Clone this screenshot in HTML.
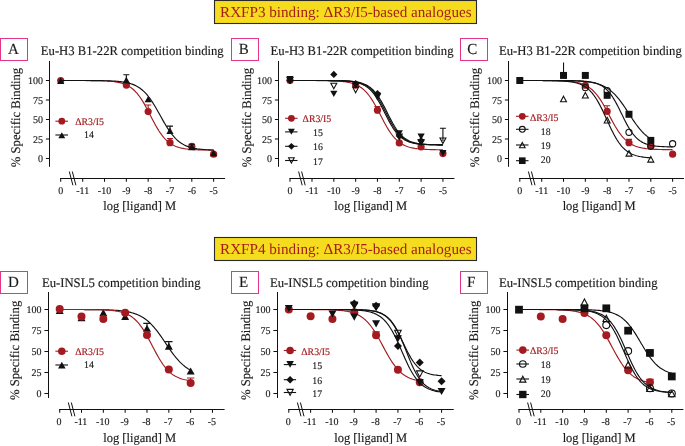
<!DOCTYPE html><html><head><meta charset="utf-8"><style>html,body{margin:0;padding:0;background:#fff}svg{display:block;will-change:transform}text{stroke-width:0.15px;paint-order:stroke}</style></head><body>
<svg width="685" height="446" viewBox="0 0 685 446" font-family="'Liberation Serif', serif" text-rendering="geometricPrecision">
<rect width="685" height="446" fill="#fff"/>
<rect x="214.5" y="0.5" width="262" height="23" fill="#f6dc1e" stroke="#2a2a2a" stroke-width="1.1"/>
<text x="220.05" y="16.7" font-size="15.15" fill="#a61e1a" style="stroke:none">RXFP3 binding: ΔR3/I5-based analogues</text>
<rect x="214.5" y="237.5" width="262" height="23" fill="#f6dc1e" stroke="#2a2a2a" stroke-width="1.1"/>
<text x="220.05" y="253.8" font-size="15.15" fill="#a61e1a" style="stroke:none">RXFP4 binding: ΔR3/I5-based analogues</text>
<rect x="0.5" y="38.5" width="27" height="22" fill="none" stroke="#e3358c" stroke-width="1"/>
<text transform="translate(13.3 53.8) scale(1 1.03)" font-size="15" text-anchor="middle" fill="#1a1a1a" stroke="#1a1a1a">A</text>
<text transform="translate(40.8 54.6) scale(1 1.03)" font-size="12.7" fill="#1a1a1a" stroke="#1a1a1a">Eu-H3 B1-22R competition binding</text>
<g stroke="#111" stroke-width="1.05" fill="none">
<path d="M49.5 61V166.8"/>
<path d="M45.9 158.5H49.5"/>
<path d="M45.9 139H49.5"/>
<path d="M45.9 119.5H49.5"/>
<path d="M45.9 100H49.5"/>
<path d="M45.9 80.5H49.5"/>
<path d="M60.1 178.5H225.1"/>
<path d="M60.7 178.5V181.8"/>
<path d="M82.7 178.5V181.8"/>
<path d="M104.52 178.5V181.8"/>
<path d="M126.34 178.5V181.8"/>
<path d="M148.16 178.5V181.8"/>
<path d="M169.98 178.5V181.8"/>
<path d="M191.8 178.5V181.8"/>
<path d="M213.62 178.5V181.8"/>
</g>
<g stroke="#111" stroke-width="1.0"><path d="M69.3 171.5L72.9 185.3"/><path d="M72.3 171.5L75.9 185.3"/></g>
<g font-size="10" fill="#1a1a1a">
<text transform="translate(43.1 162) scale(1 1.03)" text-anchor="end" fill="#1a1a1a" stroke="#1a1a1a">0</text>
<text transform="translate(43.1 142.5) scale(1 1.03)" text-anchor="end" fill="#1a1a1a" stroke="#1a1a1a">25</text>
<text transform="translate(43.1 123) scale(1 1.03)" text-anchor="end" fill="#1a1a1a" stroke="#1a1a1a">50</text>
<text transform="translate(43.1 103.5) scale(1 1.03)" text-anchor="end" fill="#1a1a1a" stroke="#1a1a1a">75</text>
<text transform="translate(43.1 84) scale(1 1.03)" text-anchor="end" fill="#1a1a1a" stroke="#1a1a1a">100</text>
<text transform="translate(60.7 193.6) scale(1 1.03)" text-anchor="middle" fill="#1a1a1a" stroke="#1a1a1a">0</text>
<text transform="translate(82.7 193.6) scale(1 1.03)" text-anchor="middle" fill="#1a1a1a" stroke="#1a1a1a">-11</text>
<text transform="translate(104.52 193.6) scale(1 1.03)" text-anchor="middle" fill="#1a1a1a" stroke="#1a1a1a">-10</text>
<text transform="translate(126.34 193.6) scale(1 1.03)" text-anchor="middle" fill="#1a1a1a" stroke="#1a1a1a">-9</text>
<text transform="translate(148.16 193.6) scale(1 1.03)" text-anchor="middle" fill="#1a1a1a" stroke="#1a1a1a">-8</text>
<text transform="translate(169.98 193.6) scale(1 1.03)" text-anchor="middle" fill="#1a1a1a" stroke="#1a1a1a">-7</text>
<text transform="translate(191.8 193.6) scale(1 1.03)" text-anchor="middle" fill="#1a1a1a" stroke="#1a1a1a">-6</text>
<text transform="translate(213.62 193.6) scale(1 1.03)" text-anchor="middle" fill="#1a1a1a" stroke="#1a1a1a">-5</text>
</g>
<text transform="translate(103.2 210) scale(1 1.03)" font-size="12.5" fill="#1a1a1a" stroke="#1a1a1a">log [ligand] M</text>
<text transform="translate(19.5 117.5) rotate(-90) scale(1 1.03)" font-size="12.7" text-anchor="middle" fill="#1a1a1a" stroke="#1a1a1a">% Specific Binding</text>
<path d="M60.7 80.5 L61.97 80.5 L63.25 80.5 L64.52 80.5 L65.8 80.51 L67.07 80.51 L68.35 80.51 L69.62 80.51 L70.89 80.51 L72.17 80.51 L73.44 80.51 L74.72 80.51 L75.99 80.52 L77.27 80.52 L78.54 80.52 L79.81 80.53 L81.09 80.53 L82.36 80.53 L83.64 80.54 L84.91 80.55 L86.19 80.55 L87.46 80.56 L88.74 80.57 L90.01 80.58 L91.28 80.59 L92.56 80.61 L93.83 80.63 L95.11 80.64 L96.38 80.67 L97.66 80.69 L98.93 80.72 L100.2 80.75 L101.48 80.79 L102.75 80.84 L104.03 80.89 L105.3 80.95 L106.58 81.02 L107.85 81.1 L109.12 81.19 L110.4 81.29 L111.67 81.41 L112.95 81.55 L114.22 81.7 L115.5 81.88 L116.77 82.09 L118.05 82.33 L119.32 82.6 L120.59 82.91 L121.87 83.27 L123.14 83.67 L124.42 84.13 L125.69 84.66 L126.97 85.25 L128.24 85.92 L129.51 86.68 L130.79 87.53 L132.06 88.48 L133.34 89.55 L134.61 90.73 L135.89 92.04 L137.16 93.47 L138.43 95.05 L139.71 96.75 L140.98 98.6 L142.26 100.57 L143.53 102.67 L144.81 104.88 L146.08 107.18 L147.35 109.56 L148.63 112 L149.9 114.47 L151.18 116.95 L152.45 119.42 L153.73 121.84 L155 124.2 L156.28 126.48 L157.55 128.65 L158.82 130.71 L160.1 132.64 L161.37 134.45 L162.65 136.11 L163.92 137.64 L165.2 139.04 L166.47 140.31 L167.74 141.45 L169.02 142.48 L170.29 143.4 L171.57 144.22 L172.84 144.95 L174.12 145.6 L175.39 146.17 L176.66 146.67 L177.94 147.11 L179.21 147.5 L180.49 147.84 L181.76 148.14 L183.04 148.4 L184.31 148.63 L185.58 148.83 L186.86 149 L188.13 149.15 L189.41 149.28 L190.68 149.4 L191.96 149.5 L193.23 149.58 L194.5 149.66 L195.78 149.72 L197.05 149.78 L198.33 149.83 L199.6 149.87 L200.88 149.91 L202.15 149.94 L203.43 149.97 L204.7 150 L205.97 150.02 L207.25 150.03 L208.52 150.05 L209.8 150.06 L211.07 150.08 L212.35 150.09 L213.62 150.1" fill="none" stroke="#a31b21" stroke-width="1.15"/>
<path d="M148.16 111.54V104.99 M145.16 104.99H151.16" stroke="#a31b21" stroke-width="1.1" fill="none"/>
<path d="M169.98 142.67V138.45 M166.98 138.45H172.98" stroke="#a31b21" stroke-width="1.1" fill="none"/>
<circle cx="60.7" cy="80.5" r="3.6" fill="#a31b21"/>
<circle cx="126.34" cy="85.1" r="3.6" fill="#a31b21"/>
<circle cx="148.16" cy="111.54" r="3.6" fill="#a31b21"/>
<circle cx="169.98" cy="142.67" r="3.6" fill="#a31b21"/>
<circle cx="191.8" cy="146.25" r="3.6" fill="#a31b21"/>
<circle cx="213.62" cy="154.13" r="3.6" fill="#a31b21"/>
<path d="M60.7 80.5 L61.97 80.5 L63.25 80.5 L64.52 80.5 L65.8 80.5 L67.07 80.5 L68.35 80.51 L69.62 80.51 L70.89 80.51 L72.17 80.51 L73.44 80.51 L74.72 80.51 L75.99 80.51 L77.27 80.51 L78.54 80.52 L79.81 80.52 L81.09 80.52 L82.36 80.52 L83.64 80.53 L84.91 80.53 L86.19 80.53 L87.46 80.54 L88.74 80.54 L90.01 80.55 L91.28 80.56 L92.56 80.56 L93.83 80.57 L95.11 80.58 L96.38 80.6 L97.66 80.61 L98.93 80.62 L100.2 80.64 L101.48 80.66 L102.75 80.68 L104.03 80.71 L105.3 80.74 L106.58 80.77 L107.85 80.81 L109.12 80.85 L110.4 80.9 L111.67 80.96 L112.95 81.02 L114.22 81.1 L115.5 81.18 L116.77 81.28 L118.05 81.38 L119.32 81.51 L120.59 81.65 L121.87 81.81 L123.14 81.99 L124.42 82.19 L125.69 82.42 L126.97 82.68 L128.24 82.98 L129.51 83.32 L130.79 83.69 L132.06 84.12 L133.34 84.6 L134.61 85.14 L135.89 85.74 L137.16 86.42 L138.43 87.18 L139.71 88.01 L140.98 88.94 L142.26 89.97 L143.53 91.1 L144.81 92.34 L146.08 93.7 L147.35 95.17 L148.63 96.75 L149.9 98.45 L151.18 100.26 L152.45 102.18 L153.73 104.2 L155 106.31 L156.28 108.48 L157.55 110.72 L158.82 113 L160.1 115.29 L161.37 117.59 L162.65 119.87 L163.92 122.11 L165.2 124.29 L166.47 126.4 L167.74 128.43 L169.02 130.36 L170.29 132.18 L171.57 133.9 L172.84 135.49 L174.12 136.97 L175.39 138.34 L176.66 139.59 L177.94 140.73 L179.21 141.77 L180.49 142.71 L181.76 143.56 L183.04 144.32 L184.31 145 L185.58 145.61 L186.86 146.16 L188.13 146.64 L189.41 147.08 L190.68 147.46 L191.96 147.8 L193.23 148.1 L194.5 148.36 L195.78 148.6 L197.05 148.81 L198.33 148.99 L199.6 149.15 L200.88 149.29 L202.15 149.41 L203.43 149.52 L204.7 149.62 L205.97 149.7 L207.25 149.78 L208.52 149.84 L209.8 149.9 L211.07 149.95 L212.35 150 L213.62 150.03" fill="none" stroke="#111" stroke-width="1.15"/>
<path d="M126.34 79.88V74.73 M123.34 74.73H129.34" stroke="#111" stroke-width="1.1" fill="none"/>
<path d="M169.98 130.58V126.13 M166.98 126.13H172.98" stroke="#111" stroke-width="1.1" fill="none"/>
<path d="M191.8 146.88V144.23 M188.8 144.23H194.8" stroke="#111" stroke-width="1.1" fill="none"/>
<path d="M191.8 146.88V149.53 M188.8 149.53H194.8" stroke="#111" stroke-width="1.1" fill="none"/>
<polygon points="60.7,77.49 64.3,83.9 57.1,83.9" fill="#111"/>
<polygon points="126.34,76.86 129.94,83.27 122.74,83.27" fill="#111"/>
<polygon points="148.16,95.9 151.76,102.3 144.56,102.3" fill="#111"/>
<polygon points="169.98,127.56 173.58,133.97 166.38,133.97" fill="#111"/>
<polygon points="191.8,143.87 195.4,150.27 188.2,150.27" fill="#111"/>
<polygon points="213.62,149.87 217.22,156.28 210.02,156.28" fill="#111"/>
<path d="M55.4 121.2H68" stroke="#a31b21" stroke-width="1.1"/>
<circle cx="61.8" cy="121.2" r="3.42" fill="#a31b21"/>
<text transform="translate(75.2 124.6) scale(1 1.03)" font-size="9.8" fill="#a31b21" stroke="#a31b21">ΔR3/I5</text>
<path d="M55.4 135H68" stroke="#111" stroke-width="1.1"/>
<polygon points="61.8,132.14 65.22,138.23 58.38,138.23" fill="#111"/>
<text transform="translate(84 138.2) scale(1 1.03)" font-size="9.8" fill="#1a1a1a" stroke="#1a1a1a">14</text>
<rect x="231.5" y="38.5" width="27" height="22" fill="none" stroke="#e3358c" stroke-width="1"/>
<text transform="translate(243.8 53.65) scale(1 1.03)" font-size="15" text-anchor="middle" fill="#1a1a1a" stroke="#1a1a1a">B</text>
<text transform="translate(270.6 54.6) scale(1 1.03)" font-size="12.7" fill="#1a1a1a" stroke="#1a1a1a">Eu-H3 B1-22R competition binding</text>
<g stroke="#111" stroke-width="1.05" fill="none">
<path d="M278.5 61V166.8"/>
<path d="M274.9 158.5H278.5"/>
<path d="M274.9 139H278.5"/>
<path d="M274.9 119.5H278.5"/>
<path d="M274.9 100H278.5"/>
<path d="M274.9 80.5H278.5"/>
<path d="M289.4 178.5H454.4"/>
<path d="M290 178.5V181.8"/>
<path d="M312 178.5V181.8"/>
<path d="M333.82 178.5V181.8"/>
<path d="M355.64 178.5V181.8"/>
<path d="M377.46 178.5V181.8"/>
<path d="M399.28 178.5V181.8"/>
<path d="M421.1 178.5V181.8"/>
<path d="M442.92 178.5V181.8"/>
</g>
<g stroke="#111" stroke-width="1.0"><path d="M298.6 171.5L302.2 185.3"/><path d="M301.6 171.5L305.2 185.3"/></g>
<g font-size="10" fill="#1a1a1a">
<text transform="translate(272.1 162) scale(1 1.03)" text-anchor="end" fill="#1a1a1a" stroke="#1a1a1a">0</text>
<text transform="translate(272.1 142.5) scale(1 1.03)" text-anchor="end" fill="#1a1a1a" stroke="#1a1a1a">25</text>
<text transform="translate(272.1 123) scale(1 1.03)" text-anchor="end" fill="#1a1a1a" stroke="#1a1a1a">50</text>
<text transform="translate(272.1 103.5) scale(1 1.03)" text-anchor="end" fill="#1a1a1a" stroke="#1a1a1a">75</text>
<text transform="translate(272.1 84) scale(1 1.03)" text-anchor="end" fill="#1a1a1a" stroke="#1a1a1a">100</text>
<text transform="translate(290 193.6) scale(1 1.03)" text-anchor="middle" fill="#1a1a1a" stroke="#1a1a1a">0</text>
<text transform="translate(312 193.6) scale(1 1.03)" text-anchor="middle" fill="#1a1a1a" stroke="#1a1a1a">-11</text>
<text transform="translate(333.82 193.6) scale(1 1.03)" text-anchor="middle" fill="#1a1a1a" stroke="#1a1a1a">-10</text>
<text transform="translate(355.64 193.6) scale(1 1.03)" text-anchor="middle" fill="#1a1a1a" stroke="#1a1a1a">-9</text>
<text transform="translate(377.46 193.6) scale(1 1.03)" text-anchor="middle" fill="#1a1a1a" stroke="#1a1a1a">-8</text>
<text transform="translate(399.28 193.6) scale(1 1.03)" text-anchor="middle" fill="#1a1a1a" stroke="#1a1a1a">-7</text>
<text transform="translate(421.1 193.6) scale(1 1.03)" text-anchor="middle" fill="#1a1a1a" stroke="#1a1a1a">-6</text>
<text transform="translate(442.92 193.6) scale(1 1.03)" text-anchor="middle" fill="#1a1a1a" stroke="#1a1a1a">-5</text>
</g>
<text transform="translate(334.2 210) scale(1 1.03)" font-size="12.5" fill="#1a1a1a" stroke="#1a1a1a">log [ligand] M</text>
<text transform="translate(250.5 117.5) rotate(-90) scale(1 1.03)" font-size="12.7" text-anchor="middle" fill="#1a1a1a" stroke="#1a1a1a">% Specific Binding</text>
<path d="M290 80.5 L291.27 80.5 L292.55 80.5 L293.82 80.5 L295.1 80.5 L296.37 80.51 L297.65 80.51 L298.92 80.51 L300.19 80.51 L301.47 80.51 L302.74 80.51 L304.02 80.51 L305.29 80.52 L306.57 80.52 L307.84 80.52 L309.12 80.52 L310.39 80.53 L311.66 80.53 L312.94 80.54 L314.21 80.54 L315.49 80.55 L316.76 80.56 L318.04 80.56 L319.31 80.57 L320.58 80.58 L321.86 80.6 L323.13 80.61 L324.41 80.63 L325.68 80.65 L326.96 80.67 L328.23 80.7 L329.5 80.73 L330.78 80.76 L332.05 80.81 L333.33 80.85 L334.6 80.91 L335.88 80.97 L337.15 81.04 L338.42 81.12 L339.7 81.21 L340.97 81.32 L342.25 81.45 L343.52 81.59 L344.8 81.75 L346.07 81.94 L347.35 82.16 L348.62 82.4 L349.89 82.69 L351.17 83.01 L352.44 83.38 L353.72 83.8 L354.99 84.27 L356.27 84.82 L357.54 85.43 L358.81 86.12 L360.09 86.91 L361.36 87.78 L362.64 88.77 L363.91 89.86 L365.19 91.08 L366.46 92.42 L367.73 93.89 L369.01 95.5 L370.28 97.25 L371.56 99.12 L372.83 101.13 L374.11 103.25 L375.38 105.48 L376.65 107.8 L377.93 110.19 L379.2 112.63 L380.48 115.1 L381.75 117.57 L383.03 120.01 L384.3 122.4 L385.58 124.73 L386.85 126.97 L388.12 129.09 L389.4 131.11 L390.67 132.99 L391.95 134.74 L393.22 136.36 L394.5 137.84 L395.77 139.19 L397.04 140.41 L398.32 141.51 L399.59 142.5 L400.87 143.39 L402.14 144.17 L403.42 144.87 L404.69 145.49 L405.96 146.04 L407.24 146.52 L408.51 146.94 L409.79 147.31 L411.06 147.64 L412.34 147.92 L413.61 148.17 L414.88 148.39 L416.16 148.58 L417.43 148.74 L418.71 148.89 L419.98 149.01 L421.26 149.12 L422.53 149.22 L423.81 149.3 L425.08 149.37 L426.35 149.43 L427.63 149.49 L428.9 149.53 L430.18 149.57 L431.45 149.61 L432.73 149.64 L434 149.67 L435.27 149.69 L436.55 149.71 L437.82 149.73 L439.1 149.74 L440.37 149.76 L441.65 149.77 L442.92 149.78" fill="none" stroke="#a31b21" stroke-width="1.15"/>
<path d="M377.46 110.14V106.47 M374.46 106.47H380.46" stroke="#a31b21" stroke-width="1.1" fill="none"/>
<circle cx="290" cy="80.5" r="3.6" fill="#a31b21"/>
<circle cx="355.64" cy="85.18" r="3.6" fill="#a31b21"/>
<circle cx="377.46" cy="110.14" r="3.6" fill="#a31b21"/>
<circle cx="399.28" cy="142.9" r="3.6" fill="#a31b21"/>
<circle cx="421.1" cy="146.8" r="3.6" fill="#a31b21"/>
<circle cx="442.92" cy="153.59" r="3.6" fill="#a31b21"/>
<path d="M290 80.5 L291.27 80.5 L292.55 80.5 L293.82 80.5 L295.1 80.5 L296.37 80.5 L297.65 80.5 L298.92 80.5 L300.19 80.5 L301.47 80.5 L302.74 80.5 L304.02 80.5 L305.29 80.5 L306.57 80.5 L307.84 80.5 L309.12 80.51 L310.39 80.51 L311.66 80.51 L312.94 80.51 L314.21 80.51 L315.49 80.51 L316.76 80.51 L318.04 80.52 L319.31 80.52 L320.58 80.52 L321.86 80.53 L323.13 80.53 L324.41 80.54 L325.68 80.54 L326.96 80.55 L328.23 80.56 L329.5 80.57 L330.78 80.58 L332.05 80.6 L333.33 80.61 L334.6 80.63 L335.88 80.66 L337.15 80.68 L338.42 80.71 L339.7 80.75 L340.97 80.79 L342.25 80.84 L343.52 80.9 L344.8 80.97 L346.07 81.04 L347.35 81.14 L348.62 81.24 L349.89 81.37 L351.17 81.51 L352.44 81.68 L353.72 81.88 L354.99 82.11 L356.27 82.38 L357.54 82.69 L358.81 83.04 L360.09 83.46 L361.36 83.94 L362.64 84.49 L363.91 85.12 L365.19 85.84 L366.46 86.66 L367.73 87.59 L369.01 88.65 L370.28 89.84 L371.56 91.16 L372.83 92.64 L374.11 94.26 L375.38 96.04 L376.65 97.97 L377.93 100.05 L379.2 102.25 L380.48 104.58 L381.75 106.99 L383.03 109.47 L384.3 112 L385.58 114.53 L386.85 117.04 L388.12 119.5 L389.4 121.88 L390.67 124.15 L391.95 126.3 L393.22 128.31 L394.5 130.18 L395.77 131.89 L397.04 133.45 L398.32 134.86 L399.59 136.13 L400.87 137.25 L402.14 138.26 L403.42 139.14 L404.69 139.92 L405.96 140.6 L407.24 141.19 L408.51 141.71 L409.79 142.16 L411.06 142.55 L412.34 142.88 L413.61 143.17 L414.88 143.42 L416.16 143.64 L417.43 143.82 L418.71 143.98 L419.98 144.12 L421.26 144.23 L422.53 144.33 L423.81 144.42 L425.08 144.49 L426.35 144.56 L427.63 144.61 L428.9 144.66 L430.18 144.7 L431.45 144.73 L432.73 144.76 L434 144.78 L435.27 144.8 L436.55 144.82 L437.82 144.84 L439.1 144.85 L440.37 144.86 L441.65 144.87 L442.92 144.88" fill="none" stroke="#111" stroke-width="1.15"/>
<polygon points="290,82.34 293.6,75.93 286.4,75.93" fill="#111"/>
<polygon points="333.82,97.08 337.42,90.68 330.22,90.68" fill="#111"/>
<polygon points="355.64,88.58 359.24,82.17 352.04,82.17" fill="#111"/>
<polygon points="377.46,99.11 381.06,92.7 373.86,92.7" fill="#111"/>
<polygon points="399.28,136.55 402.88,130.14 395.68,130.14" fill="#111"/>
<polygon points="421.1,139.91 424.7,133.5 417.5,133.5" fill="#111"/>
<polygon points="442.92,156.44 446.52,150.03 439.32,150.03" fill="#111"/>
<path d="M290 80.5 L291.27 80.5 L292.55 80.5 L293.82 80.5 L295.1 80.5 L296.37 80.5 L297.65 80.5 L298.92 80.5 L300.19 80.5 L301.47 80.5 L302.74 80.5 L304.02 80.5 L305.29 80.5 L306.57 80.5 L307.84 80.5 L309.12 80.5 L310.39 80.51 L311.66 80.51 L312.94 80.51 L314.21 80.51 L315.49 80.51 L316.76 80.51 L318.04 80.51 L319.31 80.52 L320.58 80.52 L321.86 80.52 L323.13 80.53 L324.41 80.53 L325.68 80.54 L326.96 80.54 L328.23 80.55 L329.5 80.56 L330.78 80.57 L332.05 80.58 L333.33 80.6 L334.6 80.61 L335.88 80.63 L337.15 80.65 L338.42 80.68 L339.7 80.71 L340.97 80.75 L342.25 80.79 L343.52 80.84 L344.8 80.9 L346.07 80.96 L347.35 81.04 L348.62 81.13 L349.89 81.24 L351.17 81.37 L352.44 81.51 L353.72 81.68 L354.99 81.88 L356.27 82.1 L357.54 82.37 L358.81 82.68 L360.09 83.03 L361.36 83.45 L362.64 83.92 L363.91 84.47 L365.19 85.1 L366.46 85.82 L367.73 86.64 L369.01 87.57 L370.28 88.62 L371.56 89.8 L372.83 91.13 L374.11 92.6 L375.38 94.22 L376.65 95.99 L377.93 97.92 L379.2 99.99 L380.48 102.19 L381.75 104.51 L383.03 106.92 L384.3 109.41 L385.58 111.93 L386.85 114.46 L388.12 116.97 L389.4 119.43 L390.67 121.81 L391.95 124.09 L393.22 126.24 L394.5 128.26 L395.77 130.13 L397.04 131.85 L398.32 133.41 L399.59 134.82 L400.87 136.09 L402.14 137.23 L403.42 138.23 L404.69 139.12 L405.96 139.9 L407.24 140.58 L408.51 141.18 L409.79 141.69 L411.06 142.15 L412.34 142.54 L413.61 142.87 L414.88 143.16 L416.16 143.41 L417.43 143.63 L418.71 143.82 L419.98 143.98 L421.26 144.11 L422.53 144.23 L423.81 144.33 L425.08 144.42 L426.35 144.49 L427.63 144.55 L428.9 144.61 L430.18 144.65 L431.45 144.69 L432.73 144.73 L434 144.76 L435.27 144.78 L436.55 144.8 L437.82 144.82 L439.1 144.84 L440.37 144.85 L441.65 144.86 L442.92 144.87" fill="none" stroke="#111" stroke-width="1.15"/>
<polygon points="290,76.9 293.6,80.5 290,84.1 286.4,80.5" fill="#111"/>
<polygon points="333.82,70.82 337.42,74.42 333.82,78.02 330.22,74.42" fill="#111"/>
<polygon points="355.64,80.02 359.24,83.62 355.64,87.22 352.04,83.62" fill="#111"/>
<polygon points="377.46,89.93 381.06,93.53 377.46,97.13 373.86,93.53" fill="#111"/>
<polygon points="399.28,132.28 402.88,135.88 399.28,139.48 395.68,135.88" fill="#111"/>
<polygon points="421.1,137.04 424.7,140.64 421.1,144.24 417.5,140.64" fill="#111"/>
<path d="M290 80.5 L291.27 80.5 L292.55 80.5 L293.82 80.5 L295.1 80.5 L296.37 80.5 L297.65 80.5 L298.92 80.5 L300.19 80.5 L301.47 80.5 L302.74 80.5 L304.02 80.5 L305.29 80.5 L306.57 80.5 L307.84 80.5 L309.12 80.5 L310.39 80.5 L311.66 80.51 L312.94 80.51 L314.21 80.51 L315.49 80.51 L316.76 80.51 L318.04 80.51 L319.31 80.51 L320.58 80.52 L321.86 80.52 L323.13 80.52 L324.41 80.53 L325.68 80.53 L326.96 80.54 L328.23 80.54 L329.5 80.55 L330.78 80.56 L332.05 80.57 L333.33 80.58 L334.6 80.6 L335.88 80.61 L337.15 80.63 L338.42 80.65 L339.7 80.68 L340.97 80.71 L342.25 80.75 L343.52 80.79 L344.8 80.84 L346.07 80.9 L347.35 80.96 L348.62 81.04 L349.89 81.13 L351.17 81.24 L352.44 81.36 L353.72 81.51 L354.99 81.67 L356.27 81.87 L357.54 82.1 L358.81 82.36 L360.09 82.67 L361.36 83.02 L362.64 83.43 L363.91 83.91 L365.19 84.45 L366.46 85.08 L367.73 85.79 L369.01 86.61 L370.28 87.54 L371.56 88.59 L372.83 89.77 L374.11 91.09 L375.38 92.55 L376.65 94.17 L377.93 95.94 L379.2 97.86 L380.48 99.93 L381.75 102.13 L383.03 104.45 L384.3 106.86 L385.58 109.34 L386.85 111.86 L388.12 114.39 L389.4 116.9 L390.67 119.37 L391.95 121.75 L393.22 124.03 L394.5 126.19 L395.77 128.21 L397.04 130.08 L398.32 131.8 L399.59 133.37 L400.87 134.79 L402.14 136.06 L403.42 137.2 L404.69 138.2 L405.96 139.09 L407.24 139.88 L408.51 140.56 L409.79 141.16 L411.06 141.68 L412.34 142.13 L413.61 142.53 L414.88 142.86 L416.16 143.16 L417.43 143.41 L418.71 143.62 L419.98 143.81 L421.26 143.97 L422.53 144.11 L423.81 144.23 L425.08 144.33 L426.35 144.41 L427.63 144.49 L428.9 144.55 L430.18 144.61 L431.45 144.65 L432.73 144.69 L434 144.73 L435.27 144.76 L436.55 144.78 L437.82 144.8 L439.1 144.82 L440.37 144.84 L441.65 144.85 L442.92 144.86" fill="none" stroke="#111" stroke-width="1.15"/>
<path d="M442.92 140.95V128.24 M439.92 128.24H445.92" stroke="#111" stroke-width="1.1" fill="none"/>
<polygon points="290,83.12 292.97,77.54 287.03,77.54" fill="none" stroke="#111" stroke-width="1.1"/>
<polygon points="333.82,88.82 336.79,83.24 330.85,83.24" fill="none" stroke="#111" stroke-width="1.1"/>
<polygon points="355.64,92.72 358.61,87.14 352.67,87.14" fill="none" stroke="#111" stroke-width="1.1"/>
<polygon points="377.46,99.5 380.43,93.92 374.49,93.92" fill="none" stroke="#111" stroke-width="1.1"/>
<polygon points="399.28,139.52 402.25,133.94 396.31,133.94" fill="none" stroke="#111" stroke-width="1.1"/>
<polygon points="421.1,145.13 424.07,139.55 418.13,139.55" fill="none" stroke="#111" stroke-width="1.1"/>
<polygon points="442.92,143.57 445.89,137.99 439.95,137.99" fill="none" stroke="#111" stroke-width="1.1"/>
<path d="M285.1 118.3H297.5" stroke="#a31b21" stroke-width="1.1"/>
<circle cx="291.4" cy="118.3" r="3.42" fill="#a31b21"/>
<text transform="translate(302.6 122.1) scale(1 1.03)" font-size="9.8" fill="#a31b21" stroke="#a31b21">ΔR3/I5</text>
<path d="M285.1 131.9H297.5" stroke="#111" stroke-width="1.1"/>
<polygon points="291.4,134.76 294.82,128.67 287.98,128.67" fill="#111"/>
<text transform="translate(313 135.6) scale(1 1.03)" font-size="9.8" fill="#1a1a1a" stroke="#1a1a1a">15</text>
<path d="M285.1 146.3H297.5" stroke="#111" stroke-width="1.1"/>
<polygon points="291.4,142.88 294.82,146.3 291.4,149.72 287.98,146.3" fill="#111"/>
<text transform="translate(313 150.4) scale(1 1.03)" font-size="9.8" fill="#1a1a1a" stroke="#1a1a1a">16</text>
<path d="M285.1 160.5H297.5" stroke="#111" stroke-width="1.1"/>
<polygon points="291.4,162.99 294.22,157.69 288.58,157.69" fill="none" stroke="#111" stroke-width="1.1"/>
<text transform="translate(313 164.5) scale(1 1.03)" font-size="9.8" fill="#1a1a1a" stroke="#1a1a1a">17</text>
<rect x="460.5" y="38.5" width="27" height="22" fill="none" stroke="#e3358c" stroke-width="1"/>
<text transform="translate(472.3 53.7) scale(1 1.03)" font-size="15" text-anchor="middle" fill="#1a1a1a" stroke="#1a1a1a">C</text>
<text transform="translate(498.9 54.6) scale(1 1.03)" font-size="12.7" fill="#1a1a1a" stroke="#1a1a1a">Eu-H3 B1-22R competition binding</text>
<g stroke="#111" stroke-width="1.05" fill="none">
<path d="M508.5 61V166.8"/>
<path d="M504.9 158.5H508.5"/>
<path d="M504.9 139H508.5"/>
<path d="M504.9 119.5H508.5"/>
<path d="M504.9 100H508.5"/>
<path d="M504.9 80.5H508.5"/>
<path d="M519.2 178.5H684"/>
<path d="M519.8 178.5V181.8"/>
<path d="M541.7 178.5V181.8"/>
<path d="M563.52 178.5V181.8"/>
<path d="M585.34 178.5V181.8"/>
<path d="M607.16 178.5V181.8"/>
<path d="M628.98 178.5V181.8"/>
<path d="M650.8 178.5V181.8"/>
<path d="M672.62 178.5V181.8"/>
</g>
<g stroke="#111" stroke-width="1.0"><path d="M528.4 171.5L532 185.3"/><path d="M531.4 171.5L535 185.3"/></g>
<g font-size="10" fill="#1a1a1a">
<text transform="translate(502.1 162) scale(1 1.03)" text-anchor="end" fill="#1a1a1a" stroke="#1a1a1a">0</text>
<text transform="translate(502.1 142.5) scale(1 1.03)" text-anchor="end" fill="#1a1a1a" stroke="#1a1a1a">25</text>
<text transform="translate(502.1 123) scale(1 1.03)" text-anchor="end" fill="#1a1a1a" stroke="#1a1a1a">50</text>
<text transform="translate(502.1 103.5) scale(1 1.03)" text-anchor="end" fill="#1a1a1a" stroke="#1a1a1a">75</text>
<text transform="translate(502.1 84) scale(1 1.03)" text-anchor="end" fill="#1a1a1a" stroke="#1a1a1a">100</text>
<text transform="translate(519.8 193.6) scale(1 1.03)" text-anchor="middle" fill="#1a1a1a" stroke="#1a1a1a">0</text>
<text transform="translate(541.7 193.6) scale(1 1.03)" text-anchor="middle" fill="#1a1a1a" stroke="#1a1a1a">-11</text>
<text transform="translate(563.52 193.6) scale(1 1.03)" text-anchor="middle" fill="#1a1a1a" stroke="#1a1a1a">-10</text>
<text transform="translate(585.34 193.6) scale(1 1.03)" text-anchor="middle" fill="#1a1a1a" stroke="#1a1a1a">-9</text>
<text transform="translate(607.16 193.6) scale(1 1.03)" text-anchor="middle" fill="#1a1a1a" stroke="#1a1a1a">-8</text>
<text transform="translate(628.98 193.6) scale(1 1.03)" text-anchor="middle" fill="#1a1a1a" stroke="#1a1a1a">-7</text>
<text transform="translate(650.8 193.6) scale(1 1.03)" text-anchor="middle" fill="#1a1a1a" stroke="#1a1a1a">-6</text>
<text transform="translate(672.62 193.6) scale(1 1.03)" text-anchor="middle" fill="#1a1a1a" stroke="#1a1a1a">-5</text>
</g>
<text transform="translate(562.65 210) scale(1 1.03)" font-size="12.5" fill="#1a1a1a" stroke="#1a1a1a">log [ligand] M</text>
<text transform="translate(478.6 117.5) rotate(-90) scale(1 1.03)" font-size="12.7" text-anchor="middle" fill="#1a1a1a" stroke="#1a1a1a">% Specific Binding</text>
<path d="M519.8 80.5 L521.07 80.5 L522.35 80.51 L523.62 80.51 L524.89 80.51 L526.17 80.51 L527.44 80.51 L528.71 80.51 L529.99 80.51 L531.26 80.51 L532.53 80.52 L533.81 80.52 L535.08 80.52 L536.36 80.52 L537.63 80.53 L538.9 80.53 L540.18 80.54 L541.45 80.54 L542.72 80.55 L544 80.55 L545.27 80.56 L546.54 80.57 L547.82 80.58 L549.09 80.6 L550.36 80.61 L551.64 80.63 L552.91 80.64 L554.18 80.67 L555.46 80.69 L556.73 80.72 L558 80.75 L559.28 80.79 L560.55 80.83 L561.83 80.88 L563.1 80.94 L564.37 81.01 L565.65 81.08 L566.92 81.17 L568.19 81.27 L569.47 81.38 L570.74 81.51 L572.01 81.66 L573.29 81.83 L574.56 82.03 L575.83 82.25 L577.11 82.5 L578.38 82.79 L579.65 83.13 L580.93 83.5 L582.2 83.93 L583.48 84.42 L584.75 84.96 L586.02 85.59 L587.3 86.28 L588.57 87.07 L589.84 87.95 L591.12 88.93 L592.39 90.02 L593.66 91.23 L594.94 92.56 L596.21 94.01 L597.48 95.6 L598.76 97.31 L600.03 99.16 L601.3 101.12 L602.58 103.2 L603.85 105.38 L605.12 107.65 L606.4 109.99 L607.67 112.38 L608.95 114.79 L610.22 117.21 L611.49 119.61 L612.77 121.96 L614.04 124.25 L615.31 126.46 L616.59 128.57 L617.86 130.57 L619.13 132.45 L620.41 134.2 L621.68 135.82 L622.95 137.31 L624.23 138.68 L625.5 139.92 L626.77 141.04 L628.05 142.05 L629.32 142.96 L630.59 143.77 L631.87 144.49 L633.14 145.13 L634.42 145.7 L635.69 146.2 L636.96 146.65 L638.24 147.04 L639.51 147.38 L640.78 147.68 L642.06 147.95 L643.33 148.18 L644.6 148.38 L645.88 148.56 L647.15 148.71 L648.42 148.85 L649.7 148.97 L650.97 149.07 L652.24 149.16 L653.52 149.24 L654.79 149.31 L656.06 149.37 L657.34 149.42 L658.61 149.46 L659.89 149.5 L661.16 149.54 L662.43 149.57 L663.71 149.59 L664.98 149.61 L666.25 149.63 L667.53 149.65 L668.8 149.67 L670.07 149.68 L671.35 149.69 L672.62 149.7" fill="none" stroke="#a31b21" stroke-width="1.15"/>
<path d="M607.16 111.47V105.69 M604.16 105.69H610.16" stroke="#a31b21" stroke-width="1.1" fill="none"/>
<path d="M628.98 142.74V139.39 M625.98 139.39H631.98" stroke="#a31b21" stroke-width="1.1" fill="none"/>
<circle cx="585.34" cy="85.26" r="3.6" fill="#a31b21"/>
<circle cx="607.16" cy="111.47" r="3.6" fill="#a31b21"/>
<circle cx="628.98" cy="142.74" r="3.6" fill="#a31b21"/>
<circle cx="650.8" cy="146.33" r="3.6" fill="#a31b21"/>
<circle cx="672.62" cy="154.13" r="3.6" fill="#a31b21"/>
<path d="M519.8 80.5 L521.07 80.5 L522.35 80.5 L523.62 80.5 L524.89 80.5 L526.17 80.5 L527.44 80.5 L528.71 80.5 L529.99 80.5 L531.26 80.5 L532.53 80.5 L533.81 80.5 L535.08 80.5 L536.36 80.5 L537.63 80.5 L538.9 80.5 L540.18 80.5 L541.45 80.5 L542.72 80.5 L544 80.5 L545.27 80.51 L546.54 80.51 L547.82 80.51 L549.09 80.51 L550.36 80.51 L551.64 80.51 L552.91 80.51 L554.18 80.52 L555.46 80.52 L556.73 80.52 L558 80.53 L559.28 80.53 L560.55 80.54 L561.83 80.54 L563.1 80.55 L564.37 80.56 L565.65 80.57 L566.92 80.58 L568.19 80.59 L569.47 80.61 L570.74 80.63 L572.01 80.65 L573.29 80.67 L574.56 80.7 L575.83 80.73 L577.11 80.77 L578.38 80.82 L579.65 80.87 L580.93 80.94 L582.2 81.01 L583.48 81.1 L584.75 81.2 L586.02 81.32 L587.3 81.45 L588.57 81.61 L589.84 81.8 L591.12 82.02 L592.39 82.27 L593.66 82.56 L594.94 82.9 L596.21 83.29 L597.48 83.74 L598.76 84.26 L600.03 84.86 L601.3 85.54 L602.58 86.33 L603.85 87.22 L605.12 88.23 L606.4 89.37 L607.67 90.65 L608.95 92.08 L610.22 93.66 L611.49 95.4 L612.77 97.29 L614.04 99.34 L615.31 101.54 L616.59 103.86 L617.86 106.29 L619.13 108.82 L620.41 111.4 L621.68 114.01 L622.95 116.62 L624.23 119.19 L625.5 121.7 L626.77 124.12 L628.05 126.42 L629.32 128.59 L630.59 130.61 L631.87 132.47 L633.14 134.18 L634.42 135.74 L635.69 137.14 L636.96 138.39 L638.24 139.5 L639.51 140.49 L640.78 141.36 L642.06 142.13 L643.33 142.8 L644.6 143.38 L645.88 143.88 L647.15 144.32 L648.42 144.7 L649.7 145.03 L650.97 145.32 L652.24 145.56 L653.52 145.77 L654.79 145.95 L656.06 146.11 L657.34 146.24 L658.61 146.35 L659.89 146.45 L661.16 146.54 L662.43 146.61 L663.71 146.67 L664.98 146.72 L666.25 146.77 L667.53 146.81 L668.8 146.84 L670.07 146.87 L671.35 146.89 L672.62 146.91" fill="none" stroke="#111" stroke-width="1.15"/>
<circle cx="585.34" cy="87.6" r="3.1" fill="none" stroke="#111" stroke-width="1.1"/>
<circle cx="607.16" cy="90.56" r="3.1" fill="none" stroke="#111" stroke-width="1.1"/>
<circle cx="628.98" cy="132.29" r="3.1" fill="none" stroke="#111" stroke-width="1.1"/>
<circle cx="650.8" cy="146.02" r="3.1" fill="none" stroke="#111" stroke-width="1.1"/>
<circle cx="672.62" cy="143.76" r="3.1" fill="none" stroke="#111" stroke-width="1.1"/>
<path d="M519.8 80.5 L520.89 80.5 L521.98 80.51 L523.07 80.51 L524.17 80.51 L525.26 80.51 L526.35 80.51 L527.44 80.51 L528.53 80.51 L529.62 80.51 L530.72 80.51 L531.81 80.52 L532.9 80.52 L533.99 80.52 L535.08 80.52 L536.17 80.53 L537.27 80.53 L538.36 80.53 L539.45 80.54 L540.54 80.54 L541.63 80.55 L542.73 80.56 L543.82 80.56 L544.91 80.57 L546 80.58 L547.09 80.59 L548.18 80.6 L549.27 80.62 L550.37 80.63 L551.46 80.65 L552.55 80.67 L553.64 80.69 L554.73 80.72 L555.82 80.75 L556.92 80.78 L558.01 80.82 L559.1 80.86 L560.19 80.9 L561.28 80.96 L562.38 81.02 L563.47 81.08 L564.56 81.16 L565.65 81.25 L566.74 81.34 L567.83 81.45 L568.92 81.58 L570.02 81.71 L571.11 81.87 L572.2 82.05 L573.29 82.25 L574.38 82.47 L575.48 82.72 L576.57 83 L577.66 83.32 L578.75 83.67 L579.84 84.07 L580.93 84.51 L582.02 85.01 L583.12 85.56 L584.21 86.18 L585.3 86.86 L586.39 87.62 L587.48 88.46 L588.58 89.38 L589.67 90.4 L590.76 91.52 L591.85 92.73 L592.94 94.06 L594.03 95.5 L595.12 97.05 L596.22 98.71 L597.31 100.48 L598.4 102.37 L599.49 104.36 L600.58 106.45 L601.68 108.62 L602.77 110.87 L603.86 113.18 L604.95 115.54 L606.04 117.92 L607.13 120.32 L608.23 122.71 L609.32 125.08 L610.41 127.4 L611.5 129.67 L612.59 131.86 L613.68 133.97 L614.78 135.99 L615.87 137.9 L616.96 139.7 L618.05 141.39 L619.14 142.97 L620.23 144.44 L621.33 145.79 L622.42 147.03 L623.51 148.17 L624.6 149.21 L625.69 150.16 L626.78 151.02 L627.88 151.8 L628.97 152.5 L630.06 153.13 L631.15 153.7 L632.24 154.21 L633.33 154.67 L634.43 155.08 L635.52 155.44 L636.61 155.77 L637.7 156.06 L638.79 156.32 L639.88 156.55 L640.98 156.75 L642.07 156.93 L643.16 157.09 L644.25 157.24 L645.34 157.36 L646.43 157.47 L647.53 157.57 L648.62 157.66 L649.71 157.74 L650.8 157.81" fill="none" stroke="#111" stroke-width="1.15"/>
<polygon points="563.52,96.21 566.49,101.79 560.55,101.79" fill="none" stroke="#111" stroke-width="1.1" stroke-linejoin="miter"/>
<polygon points="585.34,92.39 588.31,97.97 582.37,97.97" fill="none" stroke="#111" stroke-width="1.1" stroke-linejoin="miter"/>
<polygon points="607.16,117.35 610.13,122.93 604.19,122.93" fill="none" stroke="#111" stroke-width="1.1" stroke-linejoin="miter"/>
<polygon points="628.98,150.57 631.95,156.15 626.01,156.15" fill="none" stroke="#111" stroke-width="1.1" stroke-linejoin="miter"/>
<polygon points="650.8,156.5 653.77,162.08 647.83,162.08" fill="none" stroke="#111" stroke-width="1.1" stroke-linejoin="miter"/>
<path d="M519.8 80.5 L520.89 80.5 L521.98 80.5 L523.07 80.5 L524.17 80.5 L525.26 80.5 L526.35 80.5 L527.44 80.5 L528.53 80.51 L529.62 80.51 L530.72 80.51 L531.81 80.51 L532.9 80.51 L533.99 80.51 L535.08 80.51 L536.17 80.51 L537.27 80.51 L538.36 80.51 L539.45 80.51 L540.54 80.52 L541.63 80.52 L542.73 80.52 L543.82 80.52 L544.91 80.52 L546 80.53 L547.09 80.53 L548.18 80.53 L549.27 80.54 L550.37 80.54 L551.46 80.55 L552.55 80.55 L553.64 80.56 L554.73 80.56 L555.82 80.57 L556.92 80.58 L558.01 80.59 L559.1 80.59 L560.19 80.6 L561.28 80.62 L562.38 80.63 L563.47 80.64 L564.56 80.66 L565.65 80.67 L566.74 80.69 L567.83 80.71 L568.92 80.74 L570.02 80.76 L571.11 80.79 L572.2 80.82 L573.29 80.86 L574.38 80.9 L575.48 80.94 L576.57 80.99 L577.66 81.04 L578.75 81.09 L579.84 81.16 L580.93 81.23 L582.02 81.31 L583.12 81.39 L584.21 81.49 L585.3 81.59 L586.39 81.71 L587.48 81.83 L588.58 81.98 L589.67 82.13 L590.76 82.3 L591.85 82.49 L592.94 82.7 L594.03 82.93 L595.12 83.18 L596.22 83.45 L597.31 83.76 L598.4 84.09 L599.49 84.45 L600.58 84.85 L601.68 85.29 L602.77 85.76 L603.86 86.28 L604.95 86.85 L606.04 87.46 L607.13 88.12 L608.23 88.84 L609.32 89.62 L610.41 90.45 L611.5 91.35 L612.59 92.31 L613.68 93.34 L614.78 94.43 L615.87 95.59 L616.96 96.82 L618.05 98.11 L619.14 99.46 L620.23 100.87 L621.33 102.34 L622.42 103.86 L623.51 105.43 L624.6 107.03 L625.69 108.67 L626.78 110.33 L627.88 112.01 L628.97 113.69 L630.06 115.38 L631.15 117.05 L632.24 118.7 L633.33 120.33 L634.43 121.92 L635.52 123.47 L636.61 124.97 L637.7 126.42 L638.79 127.81 L639.88 129.14 L640.98 130.41 L642.07 131.61 L643.16 132.74 L644.25 133.81 L645.34 134.81 L646.43 135.75 L647.53 136.62 L648.62 137.43 L649.71 138.19 L650.8 138.89" fill="none" stroke="#111" stroke-width="1.15"/>
<path d="M563.52 75.43V62.48" stroke="#111" stroke-width="1.1" fill="none"/>
<rect x="516.31" y="77.01" width="6.98" height="6.98" fill="#111"/>
<rect x="560.03" y="71.94" width="6.98" height="6.98" fill="#111"/>
<rect x="581.85" y="71.94" width="6.98" height="6.98" fill="#111"/>
<rect x="603.67" y="91.83" width="6.98" height="6.98" fill="#111"/>
<rect x="625.49" y="110.78" width="6.98" height="6.98" fill="#111"/>
<rect x="647.31" y="136.91" width="6.98" height="6.98" fill="#111"/>
<path d="M516 116.3H528.5" stroke="#a31b21" stroke-width="1.1"/>
<circle cx="522.3" cy="116.3" r="3.42" fill="#a31b21"/>
<text transform="translate(529.9 120.5) scale(1 1.03)" font-size="9.8" fill="#a31b21" stroke="#a31b21">ΔR3/I5</text>
<path d="M516 129.3H528.5" stroke="#111" stroke-width="1.1"/>
<circle cx="522.3" cy="129.3" r="2.92" fill="none" stroke="#111" stroke-width="1.1"/>
<text transform="translate(540.8 134.6) scale(1 1.03)" font-size="9.8" fill="#1a1a1a" stroke="#1a1a1a">18</text>
<path d="M516 145H528.5" stroke="#111" stroke-width="1.1"/>
<polygon points="522.3,142.51 525.12,147.81 519.48,147.81" fill="none" stroke="#111" stroke-width="1.1" stroke-linejoin="miter"/>
<text transform="translate(540.8 149.1) scale(1 1.03)" font-size="9.8" fill="#1a1a1a" stroke="#1a1a1a">19</text>
<path d="M516 160.7H528.5" stroke="#111" stroke-width="1.1"/>
<rect x="518.98" y="157.38" width="6.63" height="6.63" fill="#111"/>
<text transform="translate(540.8 162.9) scale(1 1.03)" font-size="9.8" fill="#1a1a1a" stroke="#1a1a1a">20</text>
<rect x="0.5" y="271.5" width="27" height="22" fill="none" stroke="#e3358c" stroke-width="1"/>
<text transform="translate(13.45 286.5) scale(1 1.03)" font-size="15" text-anchor="middle" fill="#1a1a1a" stroke="#1a1a1a">D</text>
<text transform="translate(41.9 286.9) scale(1 1.03)" font-size="12.7" fill="#1a1a1a" stroke="#1a1a1a">Eu-INSL5 competition binding</text>
<g stroke="#111" stroke-width="1.05" fill="none">
<path d="M48.5 292V398"/>
<path d="M44.4 393.5H48.5"/>
<path d="M44.4 372.5H48.5"/>
<path d="M44.4 351.5H48.5"/>
<path d="M44.4 330.5H48.5"/>
<path d="M44.4 309.5H48.5"/>
<path d="M59.1 409.5H224.6"/>
<path d="M59.7 409.5V412.8"/>
<path d="M81.5 409.5V412.8"/>
<path d="M103.33 409.5V412.8"/>
<path d="M125.16 409.5V412.8"/>
<path d="M146.99 409.5V412.8"/>
<path d="M168.82 409.5V412.8"/>
<path d="M190.65 409.5V412.8"/>
<path d="M212.48 409.5V412.8"/>
</g>
<g stroke="#111" stroke-width="1.0"><path d="M68.3 402.5L71.9 416.3"/><path d="M71.3 402.5L74.9 416.3"/></g>
<g font-size="10" fill="#1a1a1a">
<text transform="translate(41.5 397) scale(1 1.03)" text-anchor="end" fill="#1a1a1a" stroke="#1a1a1a">0</text>
<text transform="translate(41.5 376) scale(1 1.03)" text-anchor="end" fill="#1a1a1a" stroke="#1a1a1a">25</text>
<text transform="translate(41.5 355) scale(1 1.03)" text-anchor="end" fill="#1a1a1a" stroke="#1a1a1a">50</text>
<text transform="translate(41.5 334) scale(1 1.03)" text-anchor="end" fill="#1a1a1a" stroke="#1a1a1a">75</text>
<text transform="translate(41.5 313) scale(1 1.03)" text-anchor="end" fill="#1a1a1a" stroke="#1a1a1a">100</text>
<text transform="translate(59.1 424.8) scale(1 1.03)" text-anchor="middle" fill="#1a1a1a" stroke="#1a1a1a">0</text>
<text transform="translate(80.9 424.8) scale(1 1.03)" text-anchor="middle" fill="#1a1a1a" stroke="#1a1a1a">-11</text>
<text transform="translate(102.73 424.8) scale(1 1.03)" text-anchor="middle" fill="#1a1a1a" stroke="#1a1a1a">-10</text>
<text transform="translate(124.56 424.8) scale(1 1.03)" text-anchor="middle" fill="#1a1a1a" stroke="#1a1a1a">-9</text>
<text transform="translate(146.39 424.8) scale(1 1.03)" text-anchor="middle" fill="#1a1a1a" stroke="#1a1a1a">-8</text>
<text transform="translate(168.22 424.8) scale(1 1.03)" text-anchor="middle" fill="#1a1a1a" stroke="#1a1a1a">-7</text>
<text transform="translate(190.05 424.8) scale(1 1.03)" text-anchor="middle" fill="#1a1a1a" stroke="#1a1a1a">-6</text>
<text transform="translate(211.88 424.8) scale(1 1.03)" text-anchor="middle" fill="#1a1a1a" stroke="#1a1a1a">-5</text>
</g>
<text transform="translate(103.25 442.3) scale(1 1.03)" font-size="12.5" fill="#1a1a1a" stroke="#1a1a1a">log [ligand] M</text>
<text transform="translate(18.7 350.4) rotate(-90) scale(1 1.03)" font-size="12.7" text-anchor="middle" fill="#1a1a1a" stroke="#1a1a1a">% Specific Binding</text>
<path d="M59.7 309.51 L60.79 309.51 L61.88 309.51 L62.97 309.51 L64.06 309.51 L65.16 309.51 L66.25 309.51 L67.34 309.51 L68.43 309.51 L69.52 309.51 L70.61 309.51 L71.7 309.52 L72.8 309.52 L73.89 309.52 L74.98 309.52 L76.07 309.52 L77.16 309.53 L78.25 309.53 L79.34 309.53 L80.43 309.54 L81.53 309.54 L82.62 309.54 L83.71 309.55 L84.8 309.55 L85.89 309.56 L86.98 309.56 L88.07 309.57 L89.16 309.58 L90.25 309.59 L91.35 309.59 L92.44 309.6 L93.53 309.61 L94.62 309.63 L95.71 309.64 L96.8 309.65 L97.89 309.67 L98.98 309.68 L100.08 309.7 L101.17 309.72 L102.26 309.75 L103.35 309.77 L104.44 309.8 L105.53 309.83 L106.62 309.86 L107.72 309.9 L108.81 309.94 L109.9 309.98 L110.99 310.03 L112.08 310.08 L113.17 310.14 L114.26 310.21 L115.35 310.28 L116.44 310.36 L117.54 310.44 L118.63 310.54 L119.72 310.64 L120.81 310.75 L121.9 310.88 L122.99 311.01 L124.08 311.16 L125.17 311.33 L126.27 311.51 L127.36 311.71 L128.45 311.92 L129.54 312.16 L130.63 312.42 L131.72 312.7 L132.81 313 L133.9 313.34 L135 313.71 L136.09 314.1 L137.18 314.54 L138.27 315 L139.36 315.51 L140.45 316.06 L141.54 316.66 L142.63 317.3 L143.73 317.99 L144.82 318.74 L145.91 319.54 L147 320.39 L148.09 321.3 L149.18 322.27 L150.27 323.3 L151.37 324.39 L152.46 325.54 L153.55 326.75 L154.64 328.02 L155.73 329.35 L156.82 330.72 L157.91 332.15 L159 333.63 L160.09 335.14 L161.19 336.69 L162.28 338.27 L163.37 339.87 L164.46 341.49 L165.55 343.11 L166.64 344.73 L167.73 346.35 L168.82 347.95 L169.92 349.53 L171.01 351.08 L172.1 352.59 L173.19 354.06 L174.28 355.49 L175.37 356.87 L176.46 358.19 L177.56 359.46 L178.65 360.67 L179.74 361.82 L180.83 362.91 L181.92 363.94 L183.01 364.91 L184.1 365.82 L185.19 366.67 L186.28 367.47 L187.38 368.21 L188.47 368.91 L189.56 369.55 L190.65 370.14" fill="none" stroke="#111" stroke-width="1.15"/>
<path d="M146.99 327.98V323.36 M143.29 323.36H150.69" stroke="#111" stroke-width="1.1" fill="none"/>
<path d="M168.82 345.87V341.67 M165.12 341.67H172.52" stroke="#111" stroke-width="1.1" fill="none"/>
<polygon points="59.7,306.99 63.7,314.11 55.7,314.11" fill="#111"/>
<polygon points="81.5,314.13 85.5,321.25 77.5,321.25" fill="#111"/>
<polygon points="103.33,309.01 107.33,316.13 99.33,316.13" fill="#111"/>
<polygon points="125.16,312.96 129.16,320.08 121.16,320.08" fill="#111"/>
<polygon points="146.99,324.63 150.99,331.75 142.99,331.75" fill="#111"/>
<polygon points="168.82,342.53 172.82,349.65 164.82,349.65" fill="#111"/>
<polygon points="190.65,367.47 194.65,374.59 186.65,374.59" fill="#111"/>
<path d="M59.7 309.5 L60.79 309.5 L61.88 309.5 L62.97 309.51 L64.06 309.51 L65.16 309.51 L66.25 309.51 L67.34 309.51 L68.43 309.51 L69.52 309.51 L70.61 309.51 L71.7 309.51 L72.8 309.52 L73.89 309.52 L74.98 309.52 L76.07 309.52 L77.16 309.52 L78.25 309.53 L79.34 309.53 L80.43 309.53 L81.53 309.54 L82.62 309.54 L83.71 309.55 L84.8 309.55 L85.89 309.56 L86.98 309.57 L88.07 309.58 L89.16 309.59 L90.25 309.6 L91.35 309.61 L92.44 309.62 L93.53 309.64 L94.62 309.66 L95.71 309.68 L96.8 309.7 L97.89 309.72 L98.98 309.75 L100.08 309.78 L101.17 309.81 L102.26 309.85 L103.35 309.89 L104.44 309.94 L105.53 310 L106.62 310.06 L107.72 310.13 L108.81 310.2 L109.9 310.29 L110.99 310.38 L112.08 310.49 L113.17 310.61 L114.26 310.75 L115.35 310.9 L116.44 311.07 L117.54 311.25 L118.63 311.46 L119.72 311.7 L120.81 311.96 L121.9 312.25 L122.99 312.58 L124.08 312.94 L125.17 313.34 L126.27 313.79 L127.36 314.28 L128.45 314.83 L129.54 315.43 L130.63 316.09 L131.72 316.82 L132.81 317.62 L133.9 318.5 L135 319.46 L136.09 320.5 L137.18 321.63 L138.27 322.85 L139.36 324.16 L140.45 325.57 L141.54 327.07 L142.63 328.66 L143.73 330.34 L144.82 332.11 L145.91 333.96 L147 335.87 L148.09 337.85 L149.18 339.88 L150.27 341.95 L151.37 344.04 L152.46 346.14 L153.55 348.24 L154.64 350.33 L155.73 352.38 L156.82 354.39 L157.91 356.34 L159 358.23 L160.09 360.04 L161.19 361.78 L162.28 363.42 L163.37 364.98 L164.46 366.44 L165.55 367.8 L166.64 369.08 L167.73 370.26 L168.82 371.35 L169.92 372.36 L171.01 373.28 L172.1 374.13 L173.19 374.9 L174.28 375.6 L175.37 376.24 L176.46 376.82 L177.56 377.34 L178.65 377.81 L179.74 378.24 L180.83 378.62 L181.92 378.97 L183.01 379.28 L184.1 379.56 L185.19 379.81 L186.28 380.03 L187.38 380.23 L188.47 380.41 L189.56 380.58 L190.65 380.72" fill="none" stroke="#a31b21" stroke-width="1.15"/>
<path d="M190.65 382.92V377.96 M186.95 377.96H194.35" stroke="#a31b21" stroke-width="1.1" fill="none"/>
<circle cx="59.7" cy="309" r="4" fill="#a31b21"/>
<circle cx="81.5" cy="316.39" r="4" fill="#a31b21"/>
<circle cx="103.33" cy="319.08" r="4" fill="#a31b21"/>
<circle cx="125.16" cy="312.86" r="4" fill="#a31b21"/>
<circle cx="146.99" cy="335.12" r="4" fill="#a31b21"/>
<circle cx="168.82" cy="369.56" r="4" fill="#a31b21"/>
<circle cx="190.65" cy="382.92" r="4" fill="#a31b21"/>
<path d="M55.4 351.2H68" stroke="#a31b21" stroke-width="1.1"/>
<circle cx="61.8" cy="351.2" r="3.8" fill="#a31b21"/>
<text transform="translate(75.2 354.6) scale(1 1.03)" font-size="9.8" fill="#a31b21" stroke="#a31b21">ΔR3/I5</text>
<path d="M55.4 365H68" stroke="#111" stroke-width="1.1"/>
<polygon points="61.8,361.82 65.6,368.58 58,368.58" fill="#111"/>
<text transform="translate(84 368.2) scale(1 1.03)" font-size="9.8" fill="#1a1a1a" stroke="#1a1a1a">14</text>
<rect x="231.5" y="271.5" width="27" height="22" fill="none" stroke="#e3358c" stroke-width="1"/>
<text transform="translate(243.55 286.6) scale(1 1.03)" font-size="15" text-anchor="middle" fill="#1a1a1a" stroke="#1a1a1a">E</text>
<text transform="translate(269.9 286.9) scale(1 1.03)" font-size="12.7" fill="#1a1a1a" stroke="#1a1a1a">Eu-INSL5 competition binding</text>
<g stroke="#111" stroke-width="1.05" fill="none">
<path d="M277.5 292V398"/>
<path d="M273.4 393.5H277.5"/>
<path d="M273.4 372.5H277.5"/>
<path d="M273.4 351.5H277.5"/>
<path d="M273.4 330.5H277.5"/>
<path d="M273.4 309.5H277.5"/>
<path d="M288.2 409.5H453.7"/>
<path d="M288.8 409.5V412.8"/>
<path d="M310.6 409.5V412.8"/>
<path d="M332.43 409.5V412.8"/>
<path d="M354.26 409.5V412.8"/>
<path d="M376.09 409.5V412.8"/>
<path d="M397.92 409.5V412.8"/>
<path d="M419.75 409.5V412.8"/>
<path d="M441.58 409.5V412.8"/>
</g>
<g stroke="#111" stroke-width="1.0"><path d="M297.4 402.5L301 416.3"/><path d="M300.4 402.5L304 416.3"/></g>
<g font-size="10" fill="#1a1a1a">
<text transform="translate(270.5 397) scale(1 1.03)" text-anchor="end" fill="#1a1a1a" stroke="#1a1a1a">0</text>
<text transform="translate(270.5 376) scale(1 1.03)" text-anchor="end" fill="#1a1a1a" stroke="#1a1a1a">25</text>
<text transform="translate(270.5 355) scale(1 1.03)" text-anchor="end" fill="#1a1a1a" stroke="#1a1a1a">50</text>
<text transform="translate(270.5 334) scale(1 1.03)" text-anchor="end" fill="#1a1a1a" stroke="#1a1a1a">75</text>
<text transform="translate(270.5 313) scale(1 1.03)" text-anchor="end" fill="#1a1a1a" stroke="#1a1a1a">100</text>
<text transform="translate(288.2 424.8) scale(1 1.03)" text-anchor="middle" fill="#1a1a1a" stroke="#1a1a1a">0</text>
<text transform="translate(310 424.8) scale(1 1.03)" text-anchor="middle" fill="#1a1a1a" stroke="#1a1a1a">-11</text>
<text transform="translate(331.83 424.8) scale(1 1.03)" text-anchor="middle" fill="#1a1a1a" stroke="#1a1a1a">-10</text>
<text transform="translate(353.66 424.8) scale(1 1.03)" text-anchor="middle" fill="#1a1a1a" stroke="#1a1a1a">-9</text>
<text transform="translate(375.49 424.8) scale(1 1.03)" text-anchor="middle" fill="#1a1a1a" stroke="#1a1a1a">-8</text>
<text transform="translate(397.32 424.8) scale(1 1.03)" text-anchor="middle" fill="#1a1a1a" stroke="#1a1a1a">-7</text>
<text transform="translate(419.15 424.8) scale(1 1.03)" text-anchor="middle" fill="#1a1a1a" stroke="#1a1a1a">-6</text>
<text transform="translate(440.98 424.8) scale(1 1.03)" text-anchor="middle" fill="#1a1a1a" stroke="#1a1a1a">-5</text>
</g>
<text transform="translate(334.25 442.3) scale(1 1.03)" font-size="12.5" fill="#1a1a1a" stroke="#1a1a1a">log [ligand] M</text>
<text transform="translate(250.2 350.4) rotate(-90) scale(1 1.03)" font-size="12.7" text-anchor="middle" fill="#1a1a1a" stroke="#1a1a1a">% Specific Binding</text>
<path d="M288.8 309.5 L289.89 309.51 L290.98 309.51 L292.07 309.51 L293.17 309.51 L294.26 309.51 L295.35 309.51 L296.44 309.51 L297.53 309.51 L298.62 309.51 L299.71 309.51 L300.8 309.52 L301.89 309.52 L302.99 309.52 L304.08 309.52 L305.17 309.53 L306.26 309.53 L307.35 309.53 L308.44 309.54 L309.53 309.54 L310.62 309.55 L311.72 309.55 L312.81 309.56 L313.9 309.56 L314.99 309.57 L316.08 309.58 L317.17 309.59 L318.26 309.6 L319.36 309.61 L320.45 309.62 L321.54 309.64 L322.63 309.65 L323.72 309.67 L324.81 309.69 L325.9 309.71 L326.99 309.74 L328.09 309.77 L329.18 309.8 L330.27 309.83 L331.36 309.87 L332.45 309.92 L333.54 309.97 L334.63 310.02 L335.72 310.08 L336.81 310.15 L337.91 310.23 L339 310.31 L340.09 310.41 L341.18 310.51 L342.27 310.63 L343.36 310.76 L344.45 310.91 L345.55 311.07 L346.64 311.25 L347.73 311.45 L348.82 311.68 L349.91 311.92 L351 312.2 L352.09 312.51 L353.18 312.85 L354.27 313.22 L355.37 313.63 L356.46 314.09 L357.55 314.6 L358.64 315.15 L359.73 315.76 L360.82 316.43 L361.91 317.16 L363 317.97 L364.1 318.84 L365.19 319.78 L366.28 320.81 L367.37 321.92 L368.46 323.11 L369.55 324.39 L370.64 325.76 L371.74 327.22 L372.83 328.76 L373.92 330.38 L375.01 332.08 L376.1 333.86 L377.19 335.71 L378.28 337.61 L379.37 339.56 L380.47 341.55 L381.56 343.57 L382.65 345.61 L383.74 347.64 L384.83 349.67 L385.92 351.67 L387.01 353.64 L388.1 355.57 L389.19 357.43 L390.29 359.24 L391.38 360.97 L392.47 362.62 L393.56 364.2 L394.65 365.69 L395.74 367.09 L396.83 368.4 L397.93 369.63 L399.02 370.77 L400.11 371.83 L401.2 372.8 L402.29 373.7 L403.38 374.53 L404.47 375.29 L405.56 375.98 L406.65 376.62 L407.75 377.19 L408.84 377.72 L409.93 378.19 L411.02 378.62 L412.11 379.01 L413.2 379.36 L414.29 379.68 L415.38 379.97 L416.48 380.23 L417.57 380.46 L418.66 380.67 L419.75 380.86" fill="none" stroke="#a31b21" stroke-width="1.15"/>
<path d="M376.09 335.2V331.84 M372.39 331.84H379.79" stroke="#a31b21" stroke-width="1.1" fill="none"/>
<circle cx="288.8" cy="309.5" r="4" fill="#a31b21"/>
<circle cx="310.6" cy="316.22" r="4" fill="#a31b21"/>
<circle cx="332.43" cy="319.08" r="4" fill="#a31b21"/>
<circle cx="354.26" cy="312.19" r="4" fill="#a31b21"/>
<circle cx="376.09" cy="335.2" r="4" fill="#a31b21"/>
<circle cx="397.92" cy="369.81" r="4" fill="#a31b21"/>
<circle cx="419.75" cy="382.33" r="4" fill="#a31b21"/>
<path d="M288.8 309.5 L290.07 309.5 L291.35 309.5 L292.62 309.5 L293.89 309.5 L295.17 309.5 L296.44 309.5 L297.71 309.5 L298.99 309.5 L300.26 309.5 L301.53 309.5 L302.8 309.5 L304.08 309.5 L305.35 309.5 L306.62 309.5 L307.9 309.5 L309.17 309.5 L310.44 309.5 L311.72 309.5 L312.99 309.5 L314.26 309.51 L315.54 309.51 L316.81 309.51 L318.08 309.51 L319.36 309.51 L320.63 309.51 L321.9 309.51 L323.18 309.51 L324.45 309.52 L325.72 309.52 L327 309.52 L328.27 309.53 L329.54 309.53 L330.81 309.53 L332.09 309.54 L333.36 309.55 L334.63 309.55 L335.91 309.56 L337.18 309.57 L338.45 309.58 L339.73 309.59 L341 309.61 L342.27 309.62 L343.55 309.64 L344.82 309.66 L346.09 309.68 L347.37 309.71 L348.64 309.74 L349.91 309.78 L351.19 309.82 L352.46 309.87 L353.73 309.92 L355 309.99 L356.28 310.06 L357.55 310.14 L358.82 310.24 L360.1 310.35 L361.37 310.47 L362.64 310.62 L363.92 310.78 L365.19 310.97 L366.46 311.19 L367.74 311.44 L369.01 311.72 L370.28 312.04 L371.56 312.41 L372.83 312.83 L374.1 313.31 L375.38 313.85 L376.65 314.46 L377.92 315.15 L379.19 315.93 L380.47 316.81 L381.74 317.8 L383.01 318.91 L384.29 320.14 L385.56 321.5 L386.83 323.01 L388.11 324.67 L389.38 326.48 L390.65 328.45 L391.93 330.57 L393.2 332.85 L394.47 335.27 L395.75 337.83 L397.02 340.5 L398.29 343.27 L399.57 346.12 L400.84 349.02 L402.11 351.93 L403.39 354.85 L404.66 357.73 L405.93 360.54 L407.2 363.28 L408.48 365.9 L409.75 368.41 L411.02 370.77 L412.3 372.98 L413.57 375.04 L414.84 376.95 L416.12 378.7 L417.39 380.29 L418.66 381.74 L419.94 383.05 L421.21 384.23 L422.48 385.28 L423.76 386.22 L425.03 387.06 L426.3 387.81 L427.58 388.47 L428.85 389.05 L430.12 389.56 L431.39 390.01 L432.67 390.41 L433.94 390.76 L435.21 391.07 L436.49 391.33 L437.76 391.57 L439.03 391.77 L440.31 391.95 L441.58 392.11" fill="none" stroke="#111" stroke-width="1.15"/>
<polygon points="288.8,312.01 292.8,304.89 284.8,304.89" fill="#111"/>
<polygon points="332.43,317.63 336.43,310.51 328.43,310.51" fill="#111"/>
<polygon points="354.26,308.65 358.26,301.53 350.26,301.53" fill="#111"/>
<polygon points="354.26,320.66 358.26,313.54 350.26,313.54" fill="#111"/>
<polygon points="376.09,310.66 380.09,303.54 372.09,303.54" fill="#111"/>
<polygon points="376.09,327.38 380.09,320.26 372.09,320.26" fill="#111"/>
<polygon points="397.92,342.25 401.92,335.13 393.92,335.13" fill="#111"/>
<polygon points="419.75,386.18 423.75,379.06 415.75,379.06" fill="#111"/>
<polygon points="441.58,395.08 445.58,387.96 437.58,387.96" fill="#111"/>
<path d="M288.8 309.5 L290.07 309.5 L291.35 309.5 L292.62 309.5 L293.89 309.5 L295.17 309.5 L296.44 309.5 L297.71 309.5 L298.99 309.5 L300.26 309.5 L301.53 309.5 L302.8 309.5 L304.08 309.5 L305.35 309.5 L306.62 309.5 L307.9 309.5 L309.17 309.5 L310.44 309.5 L311.72 309.5 L312.99 309.5 L314.26 309.5 L315.54 309.5 L316.81 309.5 L318.08 309.5 L319.36 309.5 L320.63 309.5 L321.9 309.5 L323.18 309.5 L324.45 309.5 L325.72 309.5 L327 309.51 L328.27 309.51 L329.54 309.51 L330.81 309.51 L332.09 309.51 L333.36 309.51 L334.63 309.51 L335.91 309.52 L337.18 309.52 L338.45 309.52 L339.73 309.53 L341 309.53 L342.27 309.54 L343.55 309.54 L344.82 309.55 L346.09 309.56 L347.37 309.57 L348.64 309.58 L349.91 309.59 L351.19 309.6 L352.46 309.62 L353.73 309.64 L355 309.67 L356.28 309.69 L357.55 309.73 L358.82 309.76 L360.1 309.81 L361.37 309.86 L362.64 309.92 L363.92 309.99 L365.19 310.07 L366.46 310.16 L367.74 310.27 L369.01 310.4 L370.28 310.55 L371.56 310.72 L372.83 310.92 L374.1 311.16 L375.38 311.43 L376.65 311.74 L377.92 312.1 L379.19 312.52 L380.47 313.01 L381.74 313.56 L383.01 314.2 L384.29 314.94 L385.56 315.78 L386.83 316.73 L388.11 317.82 L389.38 319.05 L390.65 320.44 L391.93 321.99 L393.2 323.72 L394.47 325.63 L395.75 327.73 L397.02 330.03 L398.29 332.51 L399.57 335.16 L400.84 337.98 L402.11 340.94 L403.39 344.01 L404.66 347.16 L405.93 350.36 L407.2 353.57 L408.48 356.75 L409.75 359.86 L411.02 362.87 L412.3 365.76 L413.57 368.49 L414.84 371.05 L416.12 373.43 L417.39 375.61 L418.66 377.61 L419.94 379.42 L421.21 381.05 L422.48 382.51 L423.76 383.81 L425.03 384.96 L426.3 385.97 L427.58 386.86 L428.85 387.64 L430.12 388.32 L431.39 388.91 L432.67 389.43 L433.94 389.88 L435.21 390.26 L436.49 390.6 L437.76 390.89 L439.03 391.14 L440.31 391.35 L441.58 391.54" fill="none" stroke="#111" stroke-width="1.15"/>
<polygon points="354.26,299.54 358.26,303.54 354.26,307.54 350.26,303.54" fill="#111"/>
<polygon points="376.09,301.8 380.09,305.8 376.09,309.8 372.09,305.8" fill="#111"/>
<polygon points="397.92,341.96 401.92,345.96 397.92,349.96 393.92,345.96" fill="#111"/>
<polygon points="419.75,358.42 423.75,362.42 419.75,366.42 415.75,362.42" fill="#111"/>
<polygon points="441.58,377.15 445.58,381.15 441.58,385.15 437.58,381.15" fill="#111"/>
<path d="M288.8 309.5 L290.07 309.5 L291.35 309.5 L292.62 309.5 L293.89 309.5 L295.17 309.5 L296.44 309.5 L297.71 309.5 L298.99 309.5 L300.26 309.5 L301.53 309.5 L302.8 309.5 L304.08 309.5 L305.35 309.5 L306.62 309.5 L307.9 309.5 L309.17 309.5 L310.44 309.5 L311.72 309.5 L312.99 309.5 L314.26 309.5 L315.54 309.5 L316.81 309.5 L318.08 309.5 L319.36 309.5 L320.63 309.5 L321.9 309.5 L323.18 309.5 L324.45 309.5 L325.72 309.5 L327 309.5 L328.27 309.51 L329.54 309.51 L330.81 309.51 L332.09 309.51 L333.36 309.51 L334.63 309.51 L335.91 309.51 L337.18 309.52 L338.45 309.52 L339.73 309.52 L341 309.53 L342.27 309.53 L343.55 309.54 L344.82 309.54 L346.09 309.55 L347.37 309.56 L348.64 309.57 L349.91 309.58 L351.19 309.6 L352.46 309.61 L353.73 309.63 L355 309.66 L356.28 309.69 L357.55 309.72 L358.82 309.75 L360.1 309.8 L361.37 309.85 L362.64 309.91 L363.92 309.98 L365.19 310.06 L366.46 310.16 L367.74 310.27 L369.01 310.4 L370.28 310.56 L371.56 310.74 L372.83 310.95 L374.1 311.19 L375.38 311.48 L376.65 311.81 L377.92 312.19 L379.19 312.64 L380.47 313.15 L381.74 313.75 L383.01 314.43 L384.29 315.21 L385.56 316.1 L386.83 317.11 L388.11 318.26 L389.38 319.55 L390.65 320.99 L391.93 322.59 L393.2 324.35 L394.47 326.28 L395.75 328.36 L397.02 330.6 L398.29 332.97 L399.57 335.45 L400.84 338.03 L402.11 340.66 L403.39 343.32 L404.66 345.98 L405.93 348.59 L407.2 351.14 L408.48 353.58 L409.75 355.91 L411.02 358.09 L412.3 360.12 L413.57 361.99 L414.84 363.69 L416.12 365.24 L417.39 366.62 L418.66 367.86 L419.94 368.96 L421.21 369.93 L422.48 370.78 L423.76 371.52 L425.03 372.17 L426.3 372.73 L427.58 373.22 L428.85 373.64 L430.12 374.01 L431.39 374.32 L432.67 374.59 L433.94 374.82 L435.21 375.02 L436.49 375.19 L437.76 375.34 L439.03 375.47 L440.31 375.57 L441.58 375.66" fill="none" stroke="#111" stroke-width="1.15"/>
<polygon points="354.26,308.63 357.56,302.43 350.96,302.43" fill="none" stroke="#111" stroke-width="1.1"/>
<polygon points="376.09,310.23 379.39,304.03 372.79,304.03" fill="none" stroke="#111" stroke-width="1.1"/>
<polygon points="397.92,336.44 401.22,330.24 394.62,330.24" fill="none" stroke="#111" stroke-width="1.1"/>
<polygon points="419.75,377.09 423.05,370.89 416.45,370.89" fill="none" stroke="#111" stroke-width="1.1"/>
<path d="M283.8 350.5H296.1" stroke="#a31b21" stroke-width="1.1"/>
<circle cx="290.1" cy="350.5" r="3.8" fill="#a31b21"/>
<text transform="translate(301.3 354.5) scale(1 1.03)" font-size="9.8" fill="#a31b21" stroke="#a31b21">ΔR3/I5</text>
<path d="M283.8 364.6H296.1" stroke="#111" stroke-width="1.1"/>
<polygon points="290.1,367.78 293.9,361.02 286.3,361.02" fill="#111"/>
<text transform="translate(312.3 368.9) scale(1 1.03)" font-size="9.8" fill="#1a1a1a" stroke="#1a1a1a">15</text>
<path d="M283.8 379.7H296.1" stroke="#111" stroke-width="1.1"/>
<polygon points="290.1,375.9 293.9,379.7 290.1,383.5 286.3,379.7" fill="#111"/>
<text transform="translate(312.3 383.7) scale(1 1.03)" font-size="9.8" fill="#1a1a1a" stroke="#1a1a1a">16</text>
<path d="M283.8 392.5H296.1" stroke="#111" stroke-width="1.1"/>
<polygon points="290.1,395.27 293.24,389.38 286.97,389.38" fill="none" stroke="#111" stroke-width="1.1"/>
<text transform="translate(312.3 396.5) scale(1 1.03)" font-size="9.8" fill="#1a1a1a" stroke="#1a1a1a">17</text>
<rect x="460.5" y="271.5" width="27" height="22" fill="none" stroke="#e3358c" stroke-width="1"/>
<text transform="translate(471.25 286.5) scale(1 1.03)" font-size="15" text-anchor="middle" fill="#1a1a1a" stroke="#1a1a1a">F</text>
<text transform="translate(498.9 286.9) scale(1 1.03)" font-size="12.7" fill="#1a1a1a" stroke="#1a1a1a">Eu-INSL5 competition binding</text>
<g stroke="#111" stroke-width="1.05" fill="none">
<path d="M507.5 292V398"/>
<path d="M503.4 393.5H507.5"/>
<path d="M503.4 372.5H507.5"/>
<path d="M503.4 351.5H507.5"/>
<path d="M503.4 330.5H507.5"/>
<path d="M503.4 309.5H507.5"/>
<path d="M518.4 409.5H683.4"/>
<path d="M519 409.5V412.8"/>
<path d="M540.8 409.5V412.8"/>
<path d="M562.63 409.5V412.8"/>
<path d="M584.46 409.5V412.8"/>
<path d="M606.29 409.5V412.8"/>
<path d="M628.12 409.5V412.8"/>
<path d="M649.95 409.5V412.8"/>
<path d="M671.78 409.5V412.8"/>
</g>
<g stroke="#111" stroke-width="1.0"><path d="M527.6 402.5L531.2 416.3"/><path d="M530.6 402.5L534.2 416.3"/></g>
<g font-size="10" fill="#1a1a1a">
<text transform="translate(500.5 397) scale(1 1.03)" text-anchor="end" fill="#1a1a1a" stroke="#1a1a1a">0</text>
<text transform="translate(500.5 376) scale(1 1.03)" text-anchor="end" fill="#1a1a1a" stroke="#1a1a1a">25</text>
<text transform="translate(500.5 355) scale(1 1.03)" text-anchor="end" fill="#1a1a1a" stroke="#1a1a1a">50</text>
<text transform="translate(500.5 334) scale(1 1.03)" text-anchor="end" fill="#1a1a1a" stroke="#1a1a1a">75</text>
<text transform="translate(500.5 313) scale(1 1.03)" text-anchor="end" fill="#1a1a1a" stroke="#1a1a1a">100</text>
<text transform="translate(518.4 424.8) scale(1 1.03)" text-anchor="middle" fill="#1a1a1a" stroke="#1a1a1a">0</text>
<text transform="translate(540.2 424.8) scale(1 1.03)" text-anchor="middle" fill="#1a1a1a" stroke="#1a1a1a">-11</text>
<text transform="translate(562.03 424.8) scale(1 1.03)" text-anchor="middle" fill="#1a1a1a" stroke="#1a1a1a">-10</text>
<text transform="translate(583.86 424.8) scale(1 1.03)" text-anchor="middle" fill="#1a1a1a" stroke="#1a1a1a">-9</text>
<text transform="translate(605.69 424.8) scale(1 1.03)" text-anchor="middle" fill="#1a1a1a" stroke="#1a1a1a">-8</text>
<text transform="translate(627.52 424.8) scale(1 1.03)" text-anchor="middle" fill="#1a1a1a" stroke="#1a1a1a">-7</text>
<text transform="translate(649.35 424.8) scale(1 1.03)" text-anchor="middle" fill="#1a1a1a" stroke="#1a1a1a">-6</text>
<text transform="translate(671.18 424.8) scale(1 1.03)" text-anchor="middle" fill="#1a1a1a" stroke="#1a1a1a">-5</text>
</g>
<text transform="translate(562.65 442.3) scale(1 1.03)" font-size="12.5" fill="#1a1a1a" stroke="#1a1a1a">log [ligand] M</text>
<text transform="translate(478.4 350.4) rotate(-90) scale(1 1.03)" font-size="12.7" text-anchor="middle" fill="#1a1a1a" stroke="#1a1a1a">% Specific Binding</text>
<path d="M519 309.51 L520.09 309.51 L521.18 309.51 L522.27 309.51 L523.37 309.51 L524.46 309.51 L525.55 309.51 L526.64 309.51 L527.73 309.52 L528.82 309.52 L529.91 309.52 L531 309.52 L532.1 309.52 L533.19 309.53 L534.28 309.53 L535.37 309.53 L536.46 309.54 L537.55 309.54 L538.64 309.55 L539.73 309.55 L540.83 309.56 L541.92 309.57 L543.01 309.57 L544.1 309.58 L545.19 309.59 L546.28 309.6 L547.37 309.62 L548.46 309.63 L549.55 309.64 L550.65 309.66 L551.74 309.68 L552.83 309.7 L553.92 309.72 L555.01 309.75 L556.1 309.78 L557.19 309.81 L558.28 309.84 L559.38 309.88 L560.47 309.93 L561.56 309.97 L562.65 310.03 L563.74 310.09 L564.83 310.16 L565.92 310.23 L567.01 310.32 L568.11 310.41 L569.2 310.51 L570.29 310.63 L571.38 310.76 L572.47 310.9 L573.56 311.06 L574.65 311.23 L575.75 311.43 L576.84 311.64 L577.93 311.88 L579.02 312.15 L580.11 312.44 L581.2 312.77 L582.29 313.13 L583.38 313.52 L584.47 313.96 L585.57 314.44 L586.66 314.97 L587.75 315.55 L588.84 316.19 L589.93 316.89 L591.02 317.65 L592.11 318.48 L593.2 319.38 L594.3 320.35 L595.39 321.4 L596.48 322.54 L597.57 323.76 L598.66 325.06 L599.75 326.45 L600.84 327.93 L601.93 329.49 L603.03 331.13 L604.12 332.84 L605.21 334.63 L606.3 336.48 L607.39 338.39 L608.48 340.35 L609.57 342.35 L610.66 344.37 L611.76 346.4 L612.85 348.44 L613.94 350.47 L615.03 352.48 L616.12 354.45 L617.21 356.38 L618.3 358.26 L619.39 360.07 L620.49 361.82 L621.58 363.49 L622.67 365.08 L623.76 366.58 L624.85 368.01 L625.94 369.34 L627.03 370.59 L628.12 371.76 L629.22 372.85 L630.31 373.85 L631.4 374.78 L632.49 375.63 L633.58 376.42 L634.67 377.14 L635.76 377.8 L636.85 378.4 L637.95 378.95 L639.04 379.45 L640.13 379.9 L641.22 380.32 L642.31 380.69 L643.4 381.03 L644.49 381.33 L645.58 381.61 L646.68 381.86 L647.77 382.08 L648.86 382.29 L649.95 382.47" fill="none" stroke="#a31b21" stroke-width="1.15"/>
<path d="M649.95 382.33V379.39 M646.25 379.39H653.65" stroke="#a31b21" stroke-width="1.1" fill="none"/>
<circle cx="540.8" cy="316.39" r="4" fill="#a31b21"/>
<circle cx="562.63" cy="319.08" r="4" fill="#a31b21"/>
<circle cx="584.46" cy="313.03" r="4" fill="#a31b21"/>
<circle cx="606.29" cy="335.37" r="4" fill="#a31b21"/>
<circle cx="628.12" cy="370.15" r="4" fill="#a31b21"/>
<circle cx="649.95" cy="382.33" r="4" fill="#a31b21"/>
<path d="M519 309.5 L520.27 309.5 L521.55 309.5 L522.82 309.5 L524.09 309.5 L525.37 309.5 L526.64 309.5 L527.91 309.5 L529.19 309.5 L530.46 309.5 L531.73 309.5 L533 309.5 L534.28 309.5 L535.55 309.5 L536.82 309.5 L538.1 309.5 L539.37 309.51 L540.64 309.51 L541.92 309.51 L543.19 309.51 L544.46 309.51 L545.74 309.51 L547.01 309.51 L548.28 309.51 L549.56 309.52 L550.83 309.52 L552.1 309.52 L553.38 309.53 L554.65 309.53 L555.92 309.53 L557.2 309.54 L558.47 309.55 L559.74 309.55 L561.01 309.56 L562.29 309.57 L563.56 309.58 L564.83 309.59 L566.11 309.61 L567.38 309.62 L568.65 309.64 L569.93 309.66 L571.2 309.68 L572.47 309.71 L573.75 309.74 L575.02 309.78 L576.29 309.82 L577.57 309.87 L578.84 309.93 L580.11 309.99 L581.39 310.07 L582.66 310.15 L583.93 310.25 L585.2 310.36 L586.48 310.49 L587.75 310.64 L589.02 310.81 L590.3 311.01 L591.57 311.23 L592.84 311.49 L594.12 311.78 L595.39 312.11 L596.66 312.49 L597.94 312.93 L599.21 313.42 L600.48 313.99 L601.76 314.62 L603.03 315.35 L604.3 316.16 L605.58 317.08 L606.85 318.11 L608.12 319.26 L609.39 320.54 L610.67 321.96 L611.94 323.53 L613.21 325.25 L614.49 327.13 L615.76 329.18 L617.03 331.37 L618.31 333.72 L619.58 336.22 L620.85 338.84 L622.13 341.57 L623.4 344.4 L624.67 347.29 L625.95 350.22 L627.22 353.16 L628.49 356.08 L629.77 358.95 L631.04 361.75 L632.31 364.45 L633.59 367.03 L634.86 369.48 L636.13 371.78 L637.4 373.92 L638.68 375.91 L639.95 377.74 L641.22 379.41 L642.5 380.93 L643.77 382.31 L645.04 383.55 L646.32 384.66 L647.59 385.65 L648.86 386.53 L650.14 387.31 L651.41 388.01 L652.68 388.62 L653.96 389.16 L655.23 389.63 L656.5 390.05 L657.78 390.41 L659.05 390.73 L660.32 391.01 L661.59 391.26 L662.87 391.47 L664.14 391.66 L665.41 391.82 L666.69 391.96 L667.96 392.09 L669.23 392.19 L670.51 392.29 L671.78 392.37" fill="none" stroke="#111" stroke-width="1.15"/>
<circle cx="606.29" cy="325.12" r="3.5" fill="none" stroke="#111" stroke-width="1.1"/>
<circle cx="628.12" cy="351.08" r="3.5" fill="none" stroke="#111" stroke-width="1.1"/>
<circle cx="649.95" cy="388.21" r="3.5" fill="none" stroke="#111" stroke-width="1.1"/>
<circle cx="671.78" cy="393.5" r="3.5" fill="none" stroke="#111" stroke-width="1.1"/>
<path d="M519 309.5 L520.27 309.5 L521.55 309.5 L522.82 309.5 L524.09 309.5 L525.37 309.5 L526.64 309.5 L527.91 309.5 L529.19 309.5 L530.46 309.5 L531.73 309.5 L533 309.5 L534.28 309.5 L535.55 309.5 L536.82 309.51 L538.1 309.51 L539.37 309.51 L540.64 309.51 L541.92 309.51 L543.19 309.51 L544.46 309.51 L545.74 309.51 L547.01 309.52 L548.28 309.52 L549.56 309.52 L550.83 309.53 L552.1 309.53 L553.38 309.53 L554.65 309.54 L555.92 309.55 L557.2 309.55 L558.47 309.56 L559.74 309.57 L561.01 309.58 L562.29 309.59 L563.56 309.61 L564.83 309.62 L566.11 309.64 L567.38 309.66 L568.65 309.69 L569.93 309.71 L571.2 309.75 L572.47 309.78 L573.75 309.83 L575.02 309.88 L576.29 309.93 L577.57 310 L578.84 310.07 L580.11 310.16 L581.39 310.26 L582.66 310.37 L583.93 310.5 L585.2 310.65 L586.48 310.82 L587.75 311.02 L589.02 311.24 L590.3 311.5 L591.57 311.8 L592.84 312.13 L594.12 312.52 L595.39 312.96 L596.66 313.45 L597.94 314.02 L599.21 314.66 L600.48 315.39 L601.76 316.21 L603.03 317.13 L604.3 318.17 L605.58 319.33 L606.85 320.62 L608.12 322.05 L609.39 323.63 L610.67 325.36 L611.94 327.25 L613.21 329.3 L614.49 331.5 L615.76 333.86 L617.03 336.36 L618.31 338.99 L619.58 341.73 L620.85 344.56 L622.13 347.46 L623.4 350.39 L624.67 353.33 L625.95 356.24 L627.22 359.11 L628.49 361.9 L629.77 364.6 L631.04 367.17 L632.31 369.61 L633.59 371.91 L634.86 374.04 L636.13 376.02 L637.4 377.84 L638.68 379.51 L639.95 381.02 L641.22 382.38 L642.5 383.61 L643.77 384.72 L645.04 385.7 L646.32 386.58 L647.59 387.36 L648.86 388.04 L650.14 388.65 L651.41 389.19 L652.68 389.66 L653.96 390.07 L655.23 390.43 L656.5 390.75 L657.78 391.03 L659.05 391.27 L660.32 391.48 L661.59 391.67 L662.87 391.83 L664.14 391.97 L665.41 392.09 L666.69 392.2 L667.96 392.29 L669.23 392.37 L670.51 392.44 L671.78 392.51" fill="none" stroke="#111" stroke-width="1.15"/>
<polygon points="584.46,299.03 587.76,305.23 581.16,305.23" fill="none" stroke="#111" stroke-width="1.1" stroke-linejoin="miter"/>
<polygon points="606.29,315.24 609.59,321.44 602.99,321.44" fill="none" stroke="#111" stroke-width="1.1" stroke-linejoin="miter"/>
<polygon points="628.12,361.77 631.42,367.97 624.82,367.97" fill="none" stroke="#111" stroke-width="1.1" stroke-linejoin="miter"/>
<polygon points="649.95,385.29 653.25,391.49 646.65,391.49" fill="none" stroke="#111" stroke-width="1.1" stroke-linejoin="miter"/>
<polygon points="671.78,390.59 675.08,396.79 668.48,396.79" fill="none" stroke="#111" stroke-width="1.1" stroke-linejoin="miter"/>
<path d="M519 309.5 L520.27 309.5 L521.55 309.5 L522.82 309.5 L524.09 309.5 L525.37 309.5 L526.64 309.5 L527.91 309.5 L529.19 309.5 L530.46 309.5 L531.73 309.5 L533 309.5 L534.28 309.5 L535.55 309.5 L536.82 309.5 L538.1 309.5 L539.37 309.5 L540.64 309.5 L541.92 309.5 L543.19 309.5 L544.46 309.5 L545.74 309.5 L547.01 309.5 L548.28 309.51 L549.56 309.51 L550.83 309.51 L552.1 309.51 L553.38 309.51 L554.65 309.51 L555.92 309.51 L557.2 309.51 L558.47 309.51 L559.74 309.52 L561.01 309.52 L562.29 309.52 L563.56 309.52 L564.83 309.53 L566.11 309.53 L567.38 309.54 L568.65 309.54 L569.93 309.55 L571.2 309.55 L572.47 309.56 L573.75 309.57 L575.02 309.58 L576.29 309.59 L577.57 309.6 L578.84 309.62 L580.11 309.63 L581.39 309.65 L582.66 309.67 L583.93 309.7 L585.2 309.72 L586.48 309.76 L587.75 309.79 L589.02 309.83 L590.3 309.88 L591.57 309.93 L592.84 309.99 L594.12 310.06 L595.39 310.13 L596.66 310.22 L597.94 310.32 L599.21 310.43 L600.48 310.56 L601.76 310.7 L603.03 310.87 L604.3 311.05 L605.58 311.26 L606.85 311.5 L608.12 311.77 L609.39 312.07 L610.67 312.41 L611.94 312.8 L613.21 313.23 L614.49 313.72 L615.76 314.26 L617.03 314.87 L618.31 315.55 L619.58 316.31 L620.85 317.14 L622.13 318.07 L623.4 319.09 L624.67 320.21 L625.95 321.43 L627.22 322.76 L628.49 324.19 L629.77 325.74 L631.04 327.39 L632.31 329.14 L633.59 330.99 L634.86 332.92 L636.13 334.93 L637.4 337 L638.68 339.12 L639.95 341.27 L641.22 343.43 L642.5 345.58 L643.77 347.71 L645.04 349.8 L646.32 351.83 L647.59 353.79 L648.86 355.67 L650.14 357.45 L651.41 359.13 L652.68 360.71 L653.96 362.18 L655.23 363.54 L656.5 364.79 L657.78 365.94 L659.05 366.99 L660.32 367.94 L661.59 368.81 L662.87 369.59 L664.14 370.29 L665.41 370.92 L666.69 371.48 L667.96 371.99 L669.23 372.44 L670.51 372.83 L671.78 373.19" fill="none" stroke="#111" stroke-width="1.15"/>
<rect x="515.12" y="305.79" width="7.76" height="7.76" fill="#111"/>
<rect x="580.58" y="304.44" width="7.76" height="7.76" fill="#111"/>
<rect x="602.41" y="304.44" width="7.76" height="7.76" fill="#111"/>
<rect x="624.24" y="326.79" width="7.76" height="7.76" fill="#111"/>
<rect x="646.07" y="349.05" width="7.76" height="7.76" fill="#111"/>
<rect x="667.9" y="372.57" width="7.76" height="7.76" fill="#111"/>
<path d="M516.4 350.1H529" stroke="#a31b21" stroke-width="1.1"/>
<circle cx="522.8" cy="350.1" r="3.8" fill="#a31b21"/>
<text transform="translate(529.9 354.1) scale(1 1.03)" font-size="9.8" fill="#a31b21" stroke="#a31b21">ΔR3/I5</text>
<path d="M516.4 364H529" stroke="#111" stroke-width="1.1"/>
<circle cx="522.8" cy="364" r="3.3" fill="none" stroke="#111" stroke-width="1.1"/>
<text transform="translate(540.8 368.4) scale(1 1.03)" font-size="9.8" fill="#1a1a1a" stroke="#1a1a1a">18</text>
<path d="M516.4 379H529" stroke="#111" stroke-width="1.1"/>
<polygon points="522.8,376.23 525.93,382.12 519.66,382.12" fill="none" stroke="#111" stroke-width="1.1" stroke-linejoin="miter"/>
<text transform="translate(540.8 383) scale(1 1.03)" font-size="9.8" fill="#1a1a1a" stroke="#1a1a1a">19</text>
<path d="M516.4 394.5H529" stroke="#111" stroke-width="1.1"/>
<rect x="519.11" y="390.81" width="7.37" height="7.37" fill="#111"/>
<text transform="translate(540.8 396.7) scale(1 1.03)" font-size="9.8" fill="#1a1a1a" stroke="#1a1a1a">20</text>
</svg></body></html>
